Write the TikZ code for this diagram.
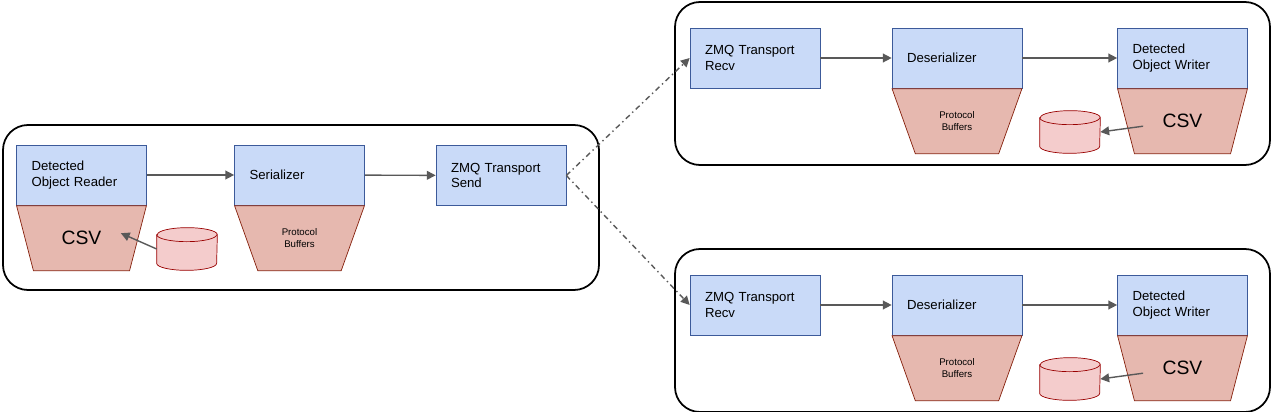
\documentclass[tikz,border=0pt]{standalone}
\usepackage{fontspec}
\setmainfont{Liberation Sans}
\usetikzlibrary{shapes.geometric, calc, arrows.meta}

\definecolor{boxfill}{HTML}{C9DAF8}
\definecolor{boxline}{HTML}{3C5A9A}
\definecolor{trapfill}{HTML}{E6B8AF}
\definecolor{trapline}{HTML}{85200C}
\definecolor{dbfill}{HTML}{F4CCCC}
\definecolor{dbline}{HTML}{990000}
\definecolor{flow}{HTML}{595959}

% draws a drum around a named db node
\newcommand{\drum}[1]{
    \filldraw[draw=dbline, fill=dbfill] ($(#1.north west)+(0,-0.14cm)$) -- ($(#1.south west)+(0,0.14cm)$)
        arc[start angle=180, end angle=360, x radius=0.6cm, y radius=0.14cm]
        -- ($(#1.north east)+(0,-0.14cm)$) arc[start angle=0, end angle=180, x radius=0.6cm, y radius=0.14cm] -- cycle;
    \draw[draw=dbline] ($(#1.north west)+(0,-0.14cm)$) arc[start angle=180, end angle=360, x radius=0.6cm, y radius=0.14cm];
}

\begin{document}
\begin{tikzpicture}[x=0.02cm, y=-0.02cm]

    \tikzstyle{group}=[draw=black, line width=1pt, rounded corners=0.5cm];
    \tikzstyle{stage}=[draw=boxline, fill=boxfill, minimum width=2.6cm, minimum height=1.2cm, text width=2.0cm, inner xsep=0.3cm, align=left, font=\fontsize{7.5}{9}\selectfont];
    \tikzstyle{codec}=[trapezium, shape border rotate=180, trapezium stretches=true, trapezium angle=63, draw=trapline, fill=trapfill, minimum width=2.6cm, minimum height=1.3cm, inner sep=0pt, align=center];
    \tikzstyle{db}=[minimum width=1.2cm, minimum height=0.84cm, inner sep=0pt];
    \tikzstyle{pipe}=[draw=flow, thick, -{Triangle[length=5pt, width=5pt]}];
    \tikzstyle{link}=[pipe, dash dot];
    \tikzstyle{csv}=[font=\fontsize{11}{13}\selectfont];
    \tikzstyle{pb}=[font=\fontsize{5.5}{7}\selectfont];

    \useasboundingbox (0,0) rectangle (1272,412);

    % sender
    \draw[group] (3,125) rectangle (599,290);
    \node[stage] (reader) at (81.5,175) {Detected\\Object Reader};
    \node[codec, csv, anchor=north] (rcsv) at (reader.south) {CSV};
    \node[db] (rdb) at (187,249) {};
    \drum{rdb}
    \node[stage] (ser) at (299.5,175) {Serializer};
    \node[codec, pb, anchor=north] (spb) at (ser.south) {Protocol\\Buffers};
    \node[stage] (send) at (501,175.5) {ZMQ Transport\\Send};

    \draw[pipe] (reader) -- (ser);
    \draw[pipe] (ser) -- (send);
    \draw[pipe] (rdb.west) -- ($(rcsv.east)+(-0.35cm,0.1cm)$);

    % receivers
    \foreach \dy/\tag in {0/a, 247/b} {
        \draw[group] (675,2+\dy) rectangle (1270,165+\dy);
        \node[stage] (recv\tag) at (755,58+\dy) {ZMQ Transport\\Recv};
        \node[stage] (des\tag) at (957,58+\dy) {Deserializer};
        \node[codec, pb, anchor=north] (dpb\tag) at (des\tag.south) {Protocol\\Buffers};
        \node[stage] (writer\tag) at (1182.5,58+\dy) {Detected\\Object Writer};
        \node[codec, csv, anchor=north] (wcsv\tag) at (writer\tag.south) {CSV};
        \node[db] (wdb\tag) at (1070,132+\dy) {};
        \drum{wdb\tag}

        \draw[pipe] (recv\tag) -- (des\tag);
        \draw[pipe] (des\tag) -- (writer\tag);
        \draw[pipe] ($(wcsv\tag.west)+(0.35cm,-0.1cm)$) -- (wdb\tag.east);
        \draw[link] (send.east) -- (recv\tag.west);
    }

\end{tikzpicture}
\end{document}
